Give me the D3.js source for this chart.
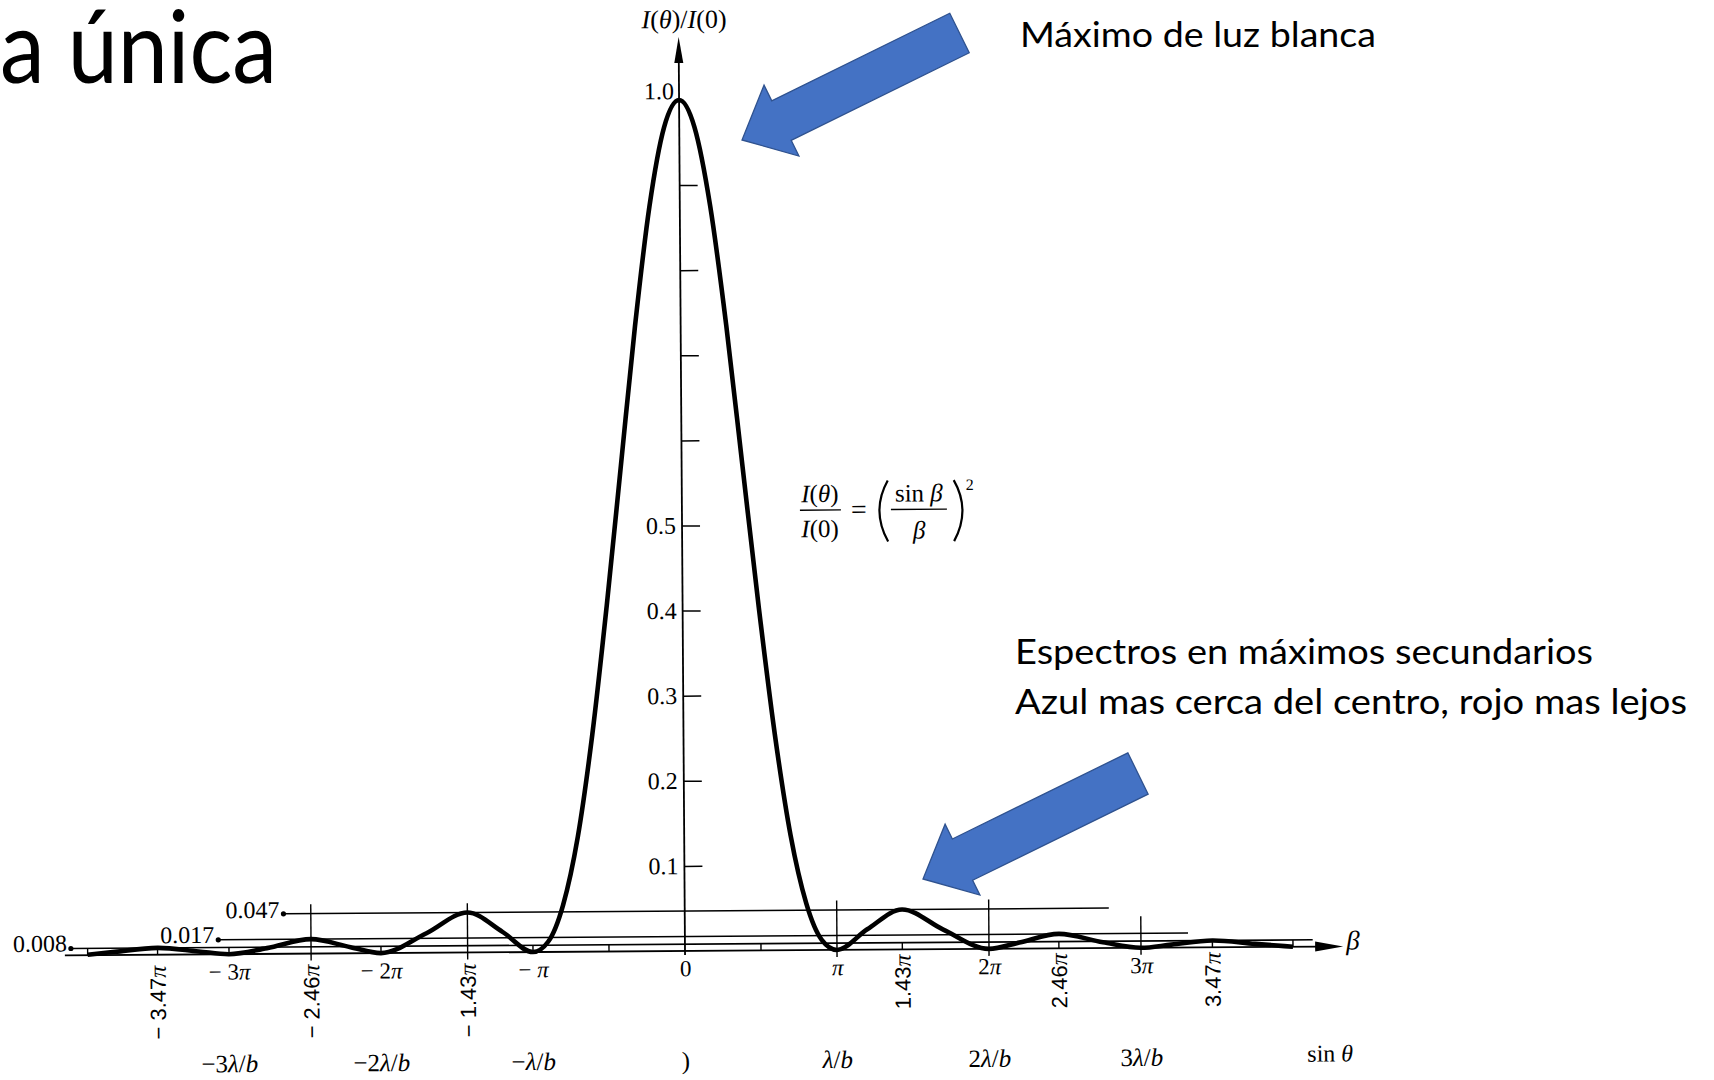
<!DOCTYPE html>
<html>
<head>
<meta charset="utf-8">
<script src="https://cdn.jsdelivr.net/npm/d3@7"></script>
<style>
  html, body { margin: 0; padding: 0; background: #fff; }
  svg { display: block; }
  .serif { font-family: "Liberation Serif", "Times New Roman", serif; fill: #000; }
  .sans { font-family: "Liberation Sans", Arial, sans-serif; fill: #000; }
  .slide { font-family: Lato, "Open Sans", sans-serif; fill: #000; }
  .ink { stroke: #000; fill: none; }
</style>
</head>
<body>
<svg id="chart" width="1714" height="1080"></svg>
<script>
// curve: beta in units of pi, intensity I(theta)/I(0)
const BETA_PI = [
  -3.93, -3.75, -3.47, -3.2, -3.0, -2.75, -2.46, -2.2, -2.0, -1.7, -1.43, -1.2, -1.0,
  -0.9, -0.8, -0.7, -0.6, -0.5, -0.4, -0.3, -0.2, -0.1, 0,
  0.1, 0.2, 0.3, 0.4, 0.5, 0.6, 0.7, 0.8, 0.9,
  1.0, 1.2, 1.43, 1.7, 2.0, 2.2, 2.46, 2.75, 3.0, 3.2, 3.47, 3.75, 4.0
];
const INTENSITY = [
  0.0005, 0.0037, 0.008, 0.0035, 0, 0.0068, 0.017, 0.0072, 0, 0.023, 0.047, 0.024, 0,
  0.012, 0.055, 0.135, 0.255, 0.405, 0.57, 0.735, 0.875, 0.968, 1.0,
  0.968, 0.875, 0.735, 0.57, 0.405, 0.255, 0.135, 0.055, 0.012,
  0, 0.024, 0.047, 0.023, 0, 0.0072, 0.017, 0.0068, 0, 0.0035, 0.008, 0.0037, 0
];

// secondary-maximum levels and the extent of their guide lines (beta/pi)
const LEVELS = [0.047, 0.017, 0.008];
const LEVEL_LABELS = ["0.047", "0.017", "0.008"];
const LEVEL_FROM = [-2.64, -3.07, -4.04];
const LEVEL_TO = [2.79, 3.31, 4.13];

// x axis
const PI_TICKS = [-3, -2, -1, 0, 1, 2, 3];
const PI_LABELS = ["− 3π", "− 2π", "− π", "0", "π", "2π", "3π"];
const MAX_TICKS = [-3.47, -2.46, -1.43, 1.43, 2.46, 3.47];
const MAX_LABELS = ["− 3.47π", "− 2.46π", "− 1.43π", "1.43π", "2.46π", "3.47π"];
const TALL_TICKS = [-2.46, -1.43, 1, 2, 3];
const TALL_TOPS = [0.058, 0.058, 0.058, 0.058, 0.037];
const SMALL_TICKS = [-3.93, -3.47, -3, -2, -1, -0.5, 0.5, 1.43, 2.46, 3.47, 4.0];
const SIN_LABELS = ["−3λ/b", "−2λ/b", "−λ/b", ")", "λ/b", "2λ/b", "3λ/b"];

// y axis
const Y_TICKS = [0.1, 0.2, 0.3, 0.4, 0.5, 0.6, 0.7, 0.8, 0.9];
const Y_LABELED = [0.1, 0.2, 0.3, 0.4, 0.5];

const ITALIC = "πλbθβI";

function richText(text, str) {
  let run = "", runItalic = null;
  const flush = () => {
    if (run) text.append("tspan").attr("font-style", runItalic ? "italic" : "normal").text(run);
    run = "";
  };
  for (const ch of str) {
    const it = ITALIC.includes(ch);
    if (runItalic !== null && it !== runItalic) flush();
    runItalic = it;
    run += ch;
  }
  flush();
  return text;
}

function blockArrow(tail, tip, shaft, head, headLen) {
  const dx = tip[0] - tail[0], dy = tip[1] - tail[1];
  const len = Math.hypot(dx, dy);
  const ux = dx / len, uy = dy / len, px = -uy, py = ux;
  const bx = tip[0] - ux * headLen, by = tip[1] - uy * headLen;
  const pt = (x, y, s) => [x + px * s, y + py * s];
  return [
    pt(tail[0], tail[1], shaft / 2), pt(bx, by, shaft / 2), pt(bx, by, head / 2), tip,
    pt(bx, by, -head / 2), pt(bx, by, -shaft / 2), pt(tail[0], tail[1], -shaft / 2)
  ];
}

function draw() {
  const svg = d3.select("#chart");
  const X0 = 685, PX_PI = 152;
  const x = d3.scaleLinear().domain([-4, 4]).range([X0 - 4 * PX_PI, X0 + 4 * PX_PI]);
  const y = d3.scaleLinear().domain([0, 1]).range([951, 100]);
  const base = y(0);

  // the scanned figure sits slightly rotated on the slide
  const fig = svg.append("g").attr("transform", `rotate(-0.4 ${X0} ${base})`);

  // guide lines for the secondary maxima
  LEVELS.forEach((v, i) => {
    fig.append("line").attr("class", "ink").attr("stroke-width", 1.6)
      .attr("x1", x(LEVEL_FROM[i])).attr("x2", x(LEVEL_TO[i]))
      .attr("y1", y(v)).attr("y2", y(v));
    fig.append("circle").attr("cx", x(LEVEL_FROM[i])).attr("cy", y(v)).attr("r", 2.6);
  });
  const labelShift = [4, 3, 3];
  LEVELS.forEach((v, i) => {
    fig.append("text").attr("class", "serif").attr("font-size", 24)
      .attr("text-anchor", "end")
      .attr("x", x(LEVEL_FROM[i]) - 4).attr("y", y(v) + labelShift[i])
      .text(LEVEL_LABELS[i]);
  });

  // beta axis with arrow
  const tipX = x(4.33);
  fig.append("line").attr("class", "ink").attr("stroke-width", 1.8)
    .attr("x1", x(-4.08)).attr("x2", tipX - 20).attr("y1", base).attr("y2", base);
  fig.append("path")
    .attr("d", `M${tipX},${base} L${tipX - 28},${base - 5} L${tipX - 28},${base + 5} Z`);
  fig.append("text").attr("class", "serif").attr("font-size", 27).attr("font-style", "italic")
    .attr("x", tipX + 3).attr("y", base + 3).text("β");

  fig.selectAll("line.small-tick").data(SMALL_TICKS).join("line")
    .attr("class", "small-tick ink").attr("stroke-width", 1.4)
    .attr("x1", d => x(d)).attr("x2", d => x(d))
    .attr("y1", y(0.008)).attr("y2", base);
  fig.selectAll("line.tall-tick").data(TALL_TICKS).join("line")
    .attr("class", "tall-tick ink").attr("stroke-width", 1.4)
    .attr("x1", d => x(d)).attr("x2", d => x(d))
    .attr("y1", (d, i) => y(TALL_TOPS[i])).attr("y2", base + 7);

  const xAxis = d3.axisBottom(x).tickValues(PI_TICKS).tickSize(0).tickPadding(9)
    .tickFormat(() => "");
  const gx = fig.append("g").attr("transform", `translate(0,${base})`).call(xAxis);
  gx.select(".domain").remove();
  gx.selectAll(".tick text").each(function (d, i) {
    const t = d3.select(this).attr("class", "serif").attr("font-size", 23).attr("fill", "#000")
      .attr("font-family", null);
    richText(t, PI_LABELS[i]);
  });

  fig.selectAll("text.max-label").data(MAX_TICKS).join("text")
    .attr("class", "max-label sans").attr("font-size", 22)
    .attr("text-anchor", "end").attr("dy", "0.36em")
    .attr("transform", d => `translate(${x(d)},${d < 0 ? base + 11 : base + 5}) rotate(-90)`)
    .each(function (d, i) {
      const label = MAX_LABELS[i];
      const t = d3.select(this);
      t.append("tspan").text(label.slice(0, -1));
      t.append("tspan").attr("font-family", "Liberation Serif, serif")
        .attr("font-style", "italic").attr("font-size", 24).text("π");
    });

  PI_TICKS.forEach((d, i) => {
    richText(fig.append("text").attr("class", "serif").attr("font-size", 25)
      .attr("text-anchor", "middle").attr("x", x(d)).attr("y", 1069), SIN_LABELS[i]);
  });
  richText(fig.append("text").attr("class", "serif").attr("font-size", 24)
    .attr("text-anchor", "middle").attr("x", x(4.24)).attr("y", 1066), "sin θ");

  // intensity axis
  fig.append("line").attr("class", "ink").attr("stroke-width", 1.8)
    .attr("x1", X0).attr("x2", X0).attr("y1", base + 4).attr("y2", 60);
  fig.append("path").attr("d", `M${X0},37 L${X0 - 4.5},63 L${X0 + 4.5},63 Z`);
  const yAxis = d3.axisLeft(y).tickValues(Y_TICKS).tickSizeInner(-18).tickSizeOuter(0)
    .tickPadding(6).tickFormat(d => Y_LABELED.includes(d) ? d3.format(".1f")(d) : "");
  const gy = fig.append("g").attr("transform", `translate(${X0},0)`).call(yAxis);
  gy.select(".domain").remove();
  gy.selectAll(".tick line").attr("stroke", "#000").attr("stroke-width", 1.5);
  gy.selectAll(".tick text").attr("class", "serif").attr("font-family", null)
    .attr("font-size", 24).attr("fill", "#000");
  fig.append("text").attr("class", "serif").attr("font-size", 24).attr("text-anchor", "end")
    .attr("x", X0 - 5).attr("y", y(1) - 1).text("1.0");
  richText(fig.append("text").attr("class", "serif").attr("font-size", 26)
    .attr("x", 648).attr("y", 28), "I(θ)/I(0)");

  // intensity curve
  const line = d3.line().x(d => x(d[0])).y(d => y(d[1])).curve(d3.curveMonotoneX);
  fig.append("path").datum(d3.zip(BETA_PI, INTENSITY))
    .attr("class", "ink").attr("stroke-width", 4.6).attr("stroke-linejoin", "round")
    .attr("d", line);

  // formula
  const fx = 803;
  const f = fig.append("g").attr("class", "serif").attr("font-size", 25);
  richText(f.append("text").attr("x", fx + 20).attr("y", 503).attr("text-anchor", "middle"), "I(θ)");
  richText(f.append("text").attr("x", fx + 20).attr("y", 538).attr("text-anchor", "middle"), "I(0)");
  f.append("line").attr("class", "ink").attr("stroke-width", 1.4)
    .attr("x1", fx).attr("x2", fx + 41).attr("y1", 511).attr("y2", 511);
  f.append("text").attr("x", fx + 51).attr("y", 520).attr("font-size", 28).text("=");
  f.append("path").attr("class", "ink").attr("stroke-width", 2.2)
    .attr("d", "M891,482 Q874,512 891,543 M957,482 Q974,512 957,543");
  richText(f.append("text").attr("x", 922).attr("y", 503).attr("text-anchor", "middle"), "sin β");
  richText(f.append("text").attr("x", 922).attr("y", 540).attr("text-anchor", "middle"), "β");
  f.append("line").attr("class", "ink").attr("stroke-width", 1.4)
    .attr("x1", 894).attr("x2", 950).attr("y1", 511).attr("y2", 511);
  f.append("text").attr("x", 969).attr("y", 492).attr("font-size", 16).text("2");

  // slide annotations
  const arrowPts = [
    blockArrow([959.5, 33], [742, 140], 44, 79, 44),
    blockArrow([1138, 773.5], [923, 879], 46, 79, 44)
  ];
  svg.selectAll("polygon.callout").data(arrowPts).join("polygon")
    .attr("class", "callout")
    .attr("points", d => d.map(p => p.join(",")).join(" "))
    .attr("fill", "#4472C4").attr("stroke", "#2F528F").attr("stroke-width", 1.3);

  const slideText = [
    { t: "a única", x: 0, y: 83, size: 100, w: 277 },
    { t: "Máximo de luz blanca", x: 1020, y: 47, size: 35, w: 356 },
    { t: "Espectros en máximos secundarios", x: 1015, y: 664, size: 35, w: 578 },
    { t: "Azul mas cerca del centro, rojo mas lejos", x: 1015, y: 714, size: 35, w: 672 }
  ];
  svg.selectAll("text.slide").data(slideText).join("text")
    .attr("class", "slide")
    .attr("x", d => d.x).attr("y", d => d.y).attr("font-size", d => d.size)
    .attr("textLength", d => d.w).attr("lengthAdjust", "spacingAndGlyphs")
    .text(d => d.t);
}

draw();
</script>
</body>
</html>
